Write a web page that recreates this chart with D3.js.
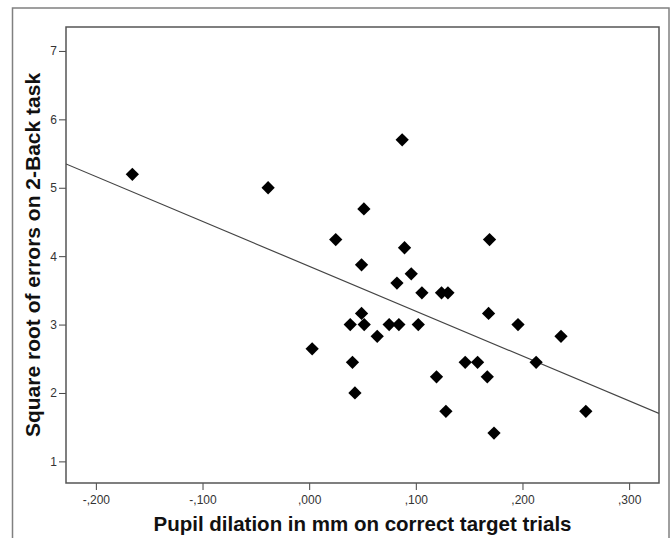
<!DOCTYPE html>
<html>
<head>
<meta charset="utf-8">
<script src="https://cdn.jsdelivr.net/npm/d3@7"></script>
<style>
  body { margin: 0; background: #fff; }
  svg { display: block; }
</style>
</head>
<body>
<svg id="chart" width="672" height="538"></svg>
<script>
// pupil dilation (mm) on correct target trials
const pupilX = [
  -0.1658, -0.0385, 0.0513, 0.0249, 0.1691, 0.0872, 0.0894, 0.0491, 0.0957,
  0.0823, 0.1057, 0.1241, 0.1301, 0.0491, 0.1682, 0.0385, 0.0516, 0.0750,
  0.0841, 0.1023, 0.1958, 0.0638, 0.2361, 0.0028, 0.0406, 0.1463, 0.1579,
  0.2128, 0.1194, 0.1670, 0.0429, 0.1282, 0.2594, 0.1733
];
// square root of errors on 2-back task
const sqrtErrors = [
  5.196, 5.000, 4.690, 4.243, 4.243, 5.700, 4.123, 3.873, 3.742,
  3.606, 3.464, 3.464, 3.464, 3.162, 3.162, 3.000, 3.000, 3.000,
  3.000, 3.000, 3.000, 2.828, 2.828, 2.646, 2.449, 2.449, 2.449,
  2.449, 2.236, 2.236, 2.000, 1.732, 1.732, 1.414
];
// fit line: intercept, slope
const fitLine = [3.852, -6.56];
const xTicks = [-0.2, -0.1, 0, 0.1, 0.2, 0.3];
const yTicks = [1, 2, 3, 4, 5, 6, 7];

const svg = d3.select("#chart");
const margin = { top: 27, right: 13, bottom: 55, left: 66 };
const width = 672 - margin.left - margin.right;
const height = 538 - margin.top - margin.bottom;

// outer frame
svg.append("rect")
    .attr("x", 12.5).attr("y", 8)
    .attr("width", 656.5).attr("height", 560)
    .attr("fill", "none")
    .attr("stroke", "#808080")
    .attr("stroke-width", 1.5);

const g = svg.append("g")
    .attr("transform", `translate(${margin.left}, ${margin.top})`);

const x = d3.scaleLinear().domain([-0.228, 0.328]).range([0, width]);
const y = d3.scaleLinear().domain([0.684, 7.35]).range([height, 0]);

// 逗号小数点, 去掉前导0
const fmt = d3.formatLocale({ decimal: ",", thousands: ".", grouping: [3], currency: ["", ""], minus: "-" }).format(".3f");
const xFmt = d => fmt(d).replace(/^(-?)0,/, "$1,");

const xAxis = g.append("g")
    .attr("transform", `translate(0, ${height})`)
    .call(d3.axisBottom(x).tickValues(xTicks).tickSize(7).tickSizeOuter(0).tickFormat(xFmt));
xAxis.select(".domain").remove();
xAxis.selectAll("line").attr("stroke", "#444");
xAxis.selectAll("text")
    .attr("dy", "0.9em")
    .attr("fill", "#333")
    .style("font-family", "Liberation Sans, Arial")
    .style("font-size", "12px");

const yAxis = g.append("g")
    .call(d3.axisLeft(y).tickValues(yTicks).tickSize(7).tickSizeOuter(0).tickFormat(d3.format("d")));
yAxis.select(".domain").remove();
yAxis.selectAll("line").attr("stroke", "#444");
yAxis.selectAll("text")
    .attr("x", -9)
    .attr("fill", "#333")
    .style("font-family", "Liberation Sans, Arial")
    .style("font-size", "12px");

// plot frame
g.append("rect")
    .attr("width", width).attr("height", height)
    .attr("fill", "none")
    .attr("stroke", "#555")
    .attr("stroke-width", 1.5);

// regression line
g.append("clipPath").attr("id", "clip")
    .append("rect").attr("width", width).attr("height", height);
const [x0, x1] = x.domain();
g.append("line")
    .attr("clip-path", "url(#clip)")
    .attr("x1", x(x0)).attr("y1", y(fitLine[0] + fitLine[1] * x0))
    .attr("x2", x(x1)).attr("y2", y(fitLine[0] + fitLine[1] * x1))
    .attr("stroke", "#444")
    .attr("stroke-width", 1.2);

// points
const diamond = d3.symbol(d3.symbolSquare, 88);
g.selectAll(".pt")
    .data(d3.range(pupilX.length))
    .enter()
    .append("path")
    .attr("class", "pt")
    .attr("d", diamond)
    .attr("transform", i => `translate(${x(pupilX[i])}, ${y(sqrtErrors[i])}) rotate(45)`)
    .attr("fill", "#000");

// axis titles
svg.append("text")
    .attr("x", margin.left + width / 2)
    .attr("y", 531)
    .attr("text-anchor", "middle")
    .style("font-family", "Liberation Sans, Arial")
    .style("font-weight", "bold")
    .style("font-size", "20.5px")
    .attr("fill", "#111")
    .text("Pupil dilation in mm on correct target trials");

svg.append("text")
    .attr("transform", `translate(40, ${margin.top + height / 2}) rotate(-90)`)
    .attr("text-anchor", "middle")
    .style("font-family", "Liberation Sans, Arial")
    .style("font-weight", "bold")
    .style("font-size", "21px")
    .attr("fill", "#111")
    .text("Square root of errors on 2-Back task");
</script>
</body>
</html>
